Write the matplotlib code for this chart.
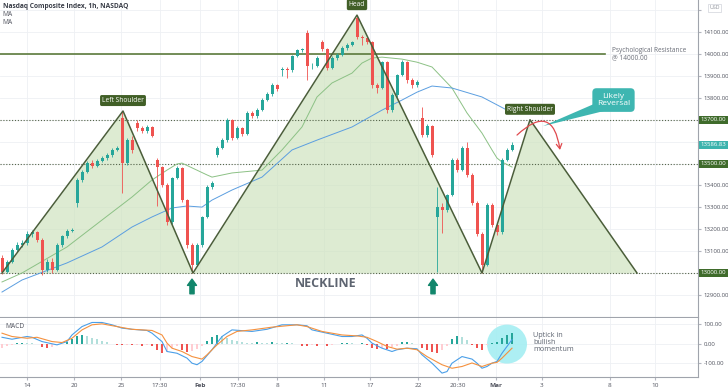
import numpy as np
import matplotlib.pyplot as plt
import matplotlib.transforms as mtransforms
from matplotlib.patches import Ellipse, Polygon

plt.rcParams['font.family'] = ['Open Sans', 'DejaVu Sans']

# hourly candles
opens = [13069, 13005, 13050, 13105, 13128, 13137, 13178, 13187, 13151, 13014,
         13050, 13014, 13128, 13169, 13192, 13320, 13425, 13461, 13502, 13489,
         13511, 13525, 13539, 13562, 13708, 13502, 13607, 13685, 13662, 13648,
         13667, 13516, 13484, 13402, 13233, 13434, 13479, 13333, 13128, 13037,
         13128, 13256, 13393, 13539, 13571, 13607, 13699, 13616, 13662, 13635,
         13731, 13717, 13744, 13790, 13817, 13858, 13927, 13932, 13927, 13991,
         14018, 14096, 13945, 13945, 14055, 14023, 13936, 13982, 13995, 14027,
         14041, 14164, 14078, 14073, 14055, 13858, 13845, 13963, 13744, 13813,
         13904, 13963, 13881, 13858, 13708, 13630, 13671, 13256, 13301, 13288,
         13356, 13516, 13470, 13571, 13448, 13320, 13178, 13037, 13311, 13219,
         13187, 13516, 13562]
closes = [13005, 13050, 13105, 13128, 13137, 13178, 13187, 13151, 13014, 13050,
          13014, 13128, 13169, 13192, 13196, 13425, 13461, 13502, 13489, 13511,
          13525, 13539, 13562, 13571, 13502, 13607, 13562, 13662, 13648, 13667,
          13626, 13484, 13402, 13233, 13434, 13479, 13333, 13128, 13037, 13128,
          13256, 13393, 13411, 13571, 13607, 13699, 13616, 13662, 13635, 13731,
          13717, 13744, 13790, 13817, 13858, 13840, 13932, 13927, 13991, 14018,
          14023, 13945, 13945, 13982, 14023, 13936, 13982, 13995, 14027, 14041,
          14055, 14078, 14073, 14055, 13858, 13845, 13963, 13744, 13813, 13904,
          13963, 13881, 13858, 13872, 13630, 13671, 13539, 13301, 13288, 13356,
          13516, 13470, 13571, 13448, 13320, 13178, 13037, 13311, 13219, 13187,
          13516, 13562, 13586.83]
highs = [13080, 13060, 13112, 13140, 13150, 13190, 13195, 13192, 13160, 13062,
         13070, 13135, 13175, 13200, 13205, 13432, 13470, 13510, 13515, 13520,
         13535, 13548, 13570, 13580, 13740, 13615, 13625, 13700, 13672, 13675,
         13672, 13525, 13490, 13410, 13440, 13488, 13485, 13340, 13135, 13135,
         13262, 13400, 13420, 13580, 13615, 13706, 13705, 13670, 13668, 13738,
         13740, 13752, 13798, 13825, 13866, 13865, 13940, 13940, 13998, 14025,
         14030, 14110, 13960, 13990, 14065, 14030, 13990, 14005, 14035, 14050,
         14062, 14175, 14085, 14080, 14060, 13870, 13970, 13970, 13820, 13910,
         13975, 13968, 13890, 13880, 13760, 13680, 13678, 13393, 13320, 13362,
         13525, 13525, 13580, 13600, 13455, 13330, 13185, 13318, 13320, 13230,
         13525, 13570, 13600]
lows = [12995, 12998, 13045, 13095, 13120, 13130, 13165, 13140, 12990, 13005,
        13000, 13010, 13120, 13160, 13185, 13300, 13415, 13455, 13480, 13482,
        13505, 13518, 13530, 13555, 13365, 13495, 13550, 13650, 13640, 13640,
        13620, 13305, 13395, 13220, 13225, 13428, 13325, 13115, 13000, 13030,
        13120, 13250, 13385, 13530, 13565, 13600, 13608, 13610, 13625, 13630,
        13710, 13710, 13738, 13785, 13810, 13832, 13900, 13890, 13920, 13985,
        14010, 13880, 13930, 13940, 14015, 13925, 13930, 13975, 13990, 14020,
        14035, 14070, 14040, 14045, 13845, 13820, 13840, 13730, 13735, 13805,
        13898, 13870, 13845, 13850, 13620, 13620, 13530, 13005, 13183, 13280,
        13350, 13460, 13465, 13440, 13310, 13170, 13000, 13030, 13210, 13175,
        13180, 13510, 13555]

# moving averages (sampled along the curves)
ma_fast_idx = [0, 4, 13, 20, 26, 30, 33, 35, 36, 41, 42, 46, 52, 56, 60, 63, 66, 70,
               72, 74, 76, 80, 83, 86, 90, 93, 96, 98, 99, 100, 102]
ma_fast = [12959, 13000, 13119, 13242, 13347, 13425, 13470, 13498, 13502, 13448,
           13438, 13457, 13470, 13562, 13667, 13804, 13868, 13913, 13959, 13982,
           13986, 13977, 13963, 13941, 13845, 13731, 13639, 13562, 13525, 13507, 13484]
ma_slow_idx = [0, 4, 13, 20, 26, 30, 34, 37, 40, 42, 46, 52, 58, 63, 70, 76, 80, 83,
               86, 90, 96, 101]
ma_slow = [12913, 12968, 13046, 13119, 13210, 13256, 13297, 13306, 13301, 13333,
           13379, 13438, 13562, 13607, 13667, 13744, 13790, 13826, 13854, 13845,
           13804, 13744]

# head and shoulders outline
pattern_idx = [0, 24.2, 38.2, 71, 96, 105.6, 127]
pattern_px = [13000, 13740, 13000, 14178, 13000, 13700, 13000]

# MACD pane
macd_idx = [0, 2, 5, 6, 8, 11, 13, 14, 16, 18, 20, 22, 24, 26, 29, 30, 32, 33, 35, 37,
            38, 39, 40, 42, 44, 46, 48, 50, 53, 56, 59, 61, 62, 65, 68, 70, 72, 73, 74,
            76, 78, 79, 81, 83, 84, 86, 88, 89, 90, 92, 94, 95, 96, 97, 98, 99, 100,
            101, 102]
macd_line = [32, 22, 36, 32, 10, -7, 10, 44, 87, 108, 108, 96, 79, 73, 67, 53, 10, -41,
             -50, -75, -101, -109, -92, -32, 36, 70, 66, 62, 73, 96, 96, 91, 70, 53, 36,
             36, 44, 27, 2, -24, -41, -32, -24, -27, -58, -101, -152, -144, -101, -67,
             -80, -101, -127, -118, -101, -92, -50, -15, 20]
signal_idx = [0, 2, 5, 7, 10, 12, 14, 16, 18, 20, 23, 26, 30, 32, 33, 34, 36, 38, 40,
              41, 43, 45, 47, 50, 54, 59, 61, 64, 68, 71, 73, 75, 77, 79, 81, 83, 85,
              88, 90, 92, 94, 96, 98, 99, 100, 102]
signal_line = [53, 36, 27, 32, 10, 5, 27, 70, 96, 101, 87, 73, 67, 44, 2, -24, -41, -67,
               -80, -58, -7, 36, 62, 70, 84, 96, 87, 62, 44, 39, 32, 10, -15, -29, -24,
               -32, -67, -109, -127, -118, -100, -118, -101, -97, -75, -24]
hist = [-25, -15, -8, 3, 5, 3, 2, -5, -20, -25,
        -18, -8, -3, 10, 25, 38, 45, 38, 30, 22,
        14, 6, -5, -8, -10, -6, -10, -8, -12, -10,
        -14, -35, -50, -42, -25, -15, -35, -45, -40, -28,
        -12, 15, 35, 45, 38, 28, 20, 14, 8, 4,
        3, 6, 5, 3, 6, 2, 1, 4, 2, -3,
        -12, -15, -8, -12, -5, -12, -10, -3, 2, 3,
        1, -2, 3, -8, -25, -30, -22, -28, -20, -12,
        6, 8, 3, -5, -25, -35, -45, -50, -35, -15,
        25, 40, 35, 20, -10, -25, -35, -10, 5, 8,
        30, 45, 53]

tick_pos = [5, 14.4, 23.8, 31.6, 39.6, 47.2, 55, 64.4, 73.6, 83.2, 91.2, 98.8, 108, 121.6, 130.6]
tick_labels = ['14', '20', '25', '17:30', 'Feb', '17:30', '8', '11', '17', '22', '20:30',
               'Mar', '3', '8', '10']

levels = [13700, 13500, 13000]
last_price = closes[-1]

UP, DOWN = '#26a69a', '#ef5350'
OLIVE = '#415f27'
GRID = '#eef0f4'
TXT = '#50535e'
AXFS = 4.3

fig = plt.figure(figsize=(7.28, 3.9), dpi=100)
ax = fig.add_axes([0, 1 - 317 / 390, 698 / 728, 317 / 390])
axm = fig.add_axes([0, 13 / 390, 698 / 728, 59 / 390], sharex=ax)

ax.set_xlim(-0.4, 139.2)
ax.set_ylim(12799, 14247)
axm.set_ylim(-172, 131)

# --- price pane
ax.fill_between(pattern_idx, pattern_px, 13000, color='#cfe3c0', alpha=0.7, lw=0, zorder=1)

idx = np.arange(len(closes))
o = np.array(opens)
c = np.array(closes)
cols = [UP if cc >= oo else DOWN for oo, cc in zip(o, c)]
ax.vlines(idx, lows, highs, colors=cols, lw=0.6, zorder=3)
ax.bar(idx, np.maximum(np.abs(c - o), 2), bottom=np.minimum(o, c), width=0.6,
       color=cols, lw=0, zorder=3)

ax.plot(ma_fast_idx, ma_fast, color='#8cc185', lw=0.7, zorder=2.6)
ax.plot(ma_slow_idx, ma_slow, color='#5b9ee0', lw=0.7, zorder=2.6)

ax.plot(pattern_idx, pattern_px, color='#4b5e3a', lw=1.1, zorder=4)

ax.plot([-0.4, 120.6], [14000, 14000], color='#5c7a3c', lw=1.2, zorder=2)
for lv in levels:
    ax.axhline(lv, color='#56654a', lw=0.8, ls=(0, (1, 1.6)), zorder=2)

# tick labels hidden where a coloured price tag sits
hidden = set(levels) | {13600, 14200}
ax.set_yticks(np.arange(12900, 14201, 100))
ax.yaxis.tick_right()
ax.yaxis.set_major_formatter(plt.FuncFormatter(
    lambda v, p: '' if round(v) in hidden else '%.2f' % v))
ax.tick_params(axis='y', labelsize=AXFS, labelcolor=TXT, length=2, color='#b2b5be', pad=2)
ax.tick_params(axis='x', bottom=False, labelbottom=False)
ax.grid(True, color=GRID, lw=0.6, zorder=0)
ax.set_axisbelow(True)
for s in ['top', 'left']:
    ax.spines[s].set_visible(False)
ax.spines['right'].set_color('#a0a4ac')
ax.spines['bottom'].set_color('#a0a4ac')

trans = mtransforms.blended_transform_factory(ax.transAxes, ax.transData)
for lv in levels:
    ax.text(1.004, lv, '%.2f' % lv, transform=trans, fontsize=AXFS, color='white',
            ha='left', va='center', zorder=6,
            bbox=dict(boxstyle='square,pad=0.25', fc='#3f6b2b', ec='none'))
ax.text(1.004, last_price, '%.2f' % last_price, transform=trans, fontsize=AXFS,
        color='white', ha='left', va='center', zorder=6,
        bbox=dict(boxstyle='square,pad=0.25', fc='#3cb3ad', ec='none'))
ax.text(1.016, 0.983, 'USD', transform=ax.transAxes, fontsize=3.8, color='#888c94',
        ha='left', va='top', zorder=7,
        bbox=dict(boxstyle='square,pad=0.3', fc='white', ec='#d0d3da', lw=0.5))

ax.text(0.004, 1 - 7 / 317, 'Nasdaq Composite Index, 1h, NASDAQ', transform=ax.transAxes,
        fontsize=4.8, color='#3a3e48', fontweight='bold', va='center')
ax.text(0.004, 1 - 15 / 317, 'MA', transform=ax.transAxes, fontsize=4.8, color=TXT, va='center')
ax.text(0.004, 1 - 23 / 317, 'MA', transform=ax.transAxes, fontsize=4.8, color=TXT, va='center')

for name, k in [('Left Shoulder', 1), ('Head', 3), ('Right Shoulder', 5)]:
    ax.annotate(name, (pattern_idx[k], pattern_px[k]), xytext=(0, 5),
                textcoords='offset points', ha='center', va='bottom', fontsize=4.8,
                color='white', zorder=6,
                bbox=dict(boxstyle='round,pad=0.3,rounding_size=0.25', fc=OLIVE, ec='none'))

ax.text(122, 14000, 'Psychological Resistance\n@ 14000.00', fontsize=4.7, color='#6a6e78',
        ha='left', va='center', linespacing=1.0)

ax.text(64.8, 12954, 'NECKLINE', fontsize=9, fontweight='bold', color='#5d6470',
        ha='center', va='center')
for xi in [38, 86.2]:
    ax.annotate('', xy=(xi, 12972), xytext=(xi, 12905), annotation_clip=False,
                arrowprops=dict(arrowstyle='simple,head_length=0.45,head_width=0.65,tail_width=0.3',
                                color='#12866b', shrinkA=0, shrinkB=0))

# likely reversal callout
ax.add_patch(Polygon([[118.8, 13776], [120.4, 13740], [108.2, 13671]], closed=True,
                     fc='#3eb6b1', ec='none', zorder=5))
ax.text(122.3, 13790, 'Likely\nReversal', fontsize=6, color='white', ha='center',
        va='center', linespacing=1.1, zorder=6,
        bbox=dict(boxstyle='round,pad=0.55,rounding_size=0.5', fc='#3eb6b1', ec='none'))
ax.annotate('', xy=(111.6, 13562), xytext=(103, 13630),
            arrowprops=dict(arrowstyle='->,head_length=0.35,head_width=0.2', color='#e0494e',
                            lw=0.9, connectionstyle='arc3,rad=-0.95', shrinkA=0, shrinkB=0),
            zorder=6)

# --- MACD pane
axm.add_patch(Ellipse((101, -3), 8, 200, fc='#a4eef2', ec='none', alpha=0.9, zorder=1))
hcols = []
for i, h in enumerate(hist):
    prev = hist[i - 1] if i > 0 else h
    if h >= 0:
        hcols.append('#26a69a' if h >= prev else '#b2dfdb')
    else:
        hcols.append('#ef5350' if h < prev else '#ffcdd2')
axm.bar(idx, hist, width=0.45, color=hcols, lw=0, zorder=2)
axm.plot(macd_idx, macd_line, color='#4a9fe8', lw=0.8, zorder=3)
axm.plot(signal_idx, signal_line, color='#f5913e', lw=0.8, zorder=3)

axm.text(0.008, 0.85, 'MACD', transform=axm.transAxes, fontsize=4.8, color=TXT, va='center')
axm.text(106.2, 5, 'Uptick in\nbullish\nmomentum', fontsize=5.2, color='#5d6470',
         ha='left', va='center', linespacing=1.0)

axm.set_yticks([100, 0, -100])
axm.yaxis.tick_right()
axm.yaxis.set_major_formatter(plt.FormatStrFormatter('%.2f'))
axm.tick_params(axis='y', labelsize=AXFS, labelcolor=TXT, length=2, color='#b2b5be', pad=2)
axm.set_xticks(tick_pos)
axm.set_xticklabels(tick_labels)
axm.tick_params(axis='x', labelsize=4.6, labelcolor=TXT, length=2, color='#b2b5be', pad=2)
for lab in axm.get_xticklabels():
    if lab.get_text() in ('Feb', 'Mar'):
        lab.set_fontweight('bold')
axm.grid(True, color=GRID, lw=0.6, zorder=0)
axm.set_axisbelow(True)
for s in ['top', 'left']:
    axm.spines[s].set_visible(False)
axm.spines['right'].set_color('#a0a4ac')
axm.spines['bottom'].set_color('#a0a4ac')

fig.savefig('out.png', dpi=100)
